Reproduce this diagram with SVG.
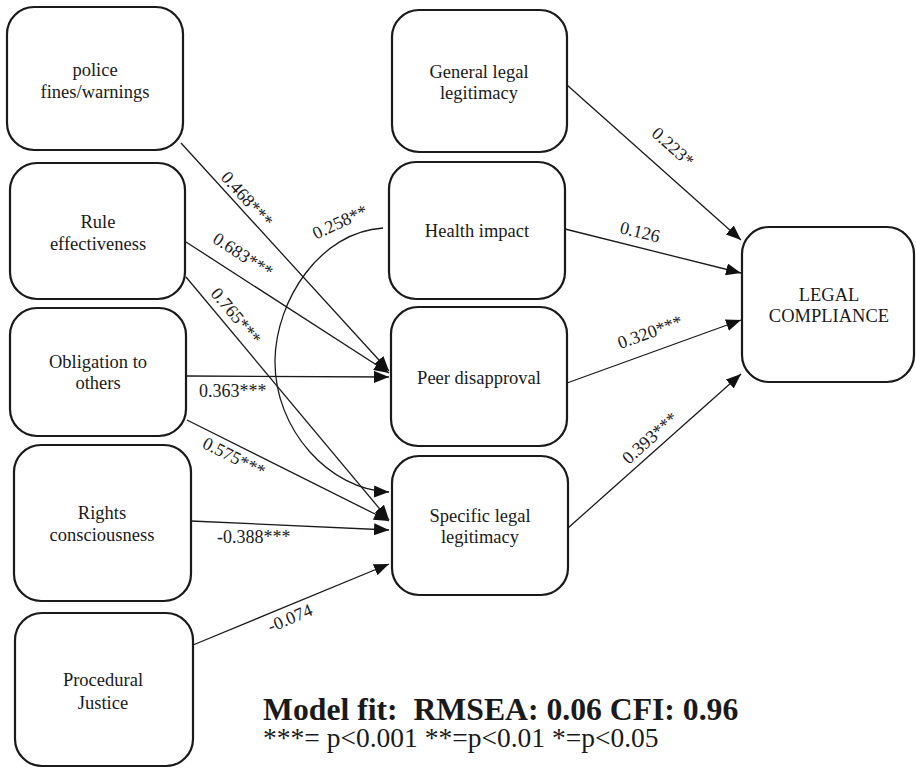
<svg xmlns="http://www.w3.org/2000/svg" width="916" height="769" viewBox="0 0 916 769">
<style>
.box{fill:#fff;stroke:#1a1a1a;stroke-width:2.2}
.nt{font-family:"Liberation Serif","Times New Roman","DejaVu Serif",serif;font-size:18.5px;fill:#1a1a1a;text-anchor:middle}
.lb{font-family:"Liberation Serif","Times New Roman","DejaVu Serif",serif;font-size:18px;fill:#1a1a1a}
.ft{font-family:"Liberation Serif","Times New Roman","DejaVu Serif",serif;fill:#1a1a1a}
.c{fill:none;stroke:#1a1a1a;stroke-width:1.3}
</style>
<defs>
<marker id="ah" markerUnits="userSpaceOnUse" markerWidth="16" markerHeight="12" refX="15" refY="6" orient="auto">
<path d="M0,0 L15,6 L0,12 z" fill="#111"/>
</marker>
</defs>
<rect width="916" height="769" fill="#fff"/>
<g id="connectors">
<line class="c" x1="181" y1="143" x2="389" y2="371" marker-end="url(#ah)"/>
<line class="c" x1="186" y1="242" x2="389" y2="373" marker-end="url(#ah)"/>
<line class="c" x1="186" y1="277" x2="389" y2="520" marker-end="url(#ah)"/>
<line class="c" x1="187" y1="376" x2="389" y2="377" marker-end="url(#ah)"/>
<line class="c" x1="187" y1="420" x2="389" y2="521" marker-end="url(#ah)"/>
<line class="c" x1="191" y1="521" x2="389" y2="530" marker-end="url(#ah)"/>
<line class="c" x1="193" y1="645" x2="389" y2="564" marker-end="url(#ah)"/>
<path class="c" d="M383,228 C320,232 276,300 275,360 C274,430 330,490 389,492" marker-end="url(#ah)"/>
<line class="c" x1="567" y1="85" x2="741" y2="240" marker-end="url(#ah)"/>
<line class="c" x1="565" y1="229" x2="741" y2="273" marker-end="url(#ah)"/>
<line class="c" x1="567" y1="383" x2="741" y2="320" marker-end="url(#ah)"/>
<line class="c" x1="568" y1="528" x2="741" y2="374" marker-end="url(#ah)"/>
<text class="lb" text-anchor="middle" x="247" y="205" transform="rotate(47.9 247 199)">0.468***</text>
<text class="lb" text-anchor="middle" x="243" y="261" transform="rotate(32.9 243 255)">0.683***</text>
<text class="lb" text-anchor="middle" x="236" y="322" transform="rotate(50.1 236 316)">0.765***</text>
<text class="lb" x="199" y="397">0.363***</text>
<text class="lb" text-anchor="middle" x="234" y="463" transform="rotate(26.6 234 457)">0.575***</text>
<text class="lb" x="217" y="543">-0.388***</text>
<text class="lb" text-anchor="middle" x="290" y="624" transform="rotate(-22.7 290 618)">-0.074</text>
<text class="lb" text-anchor="middle" x="340" y="228" transform="rotate(-25 340 222)">0.258**</text>
<text class="lb" text-anchor="middle" x="673" y="153" transform="rotate(41.7 673 147)">0.223*</text>
<text class="lb" text-anchor="middle" x="640" y="238" transform="rotate(13.5 640 232)">0.126</text>
<text class="lb" text-anchor="middle" x="650" y="338" transform="rotate(-19.8 650 332)">0.320***</text>
<text class="lb" text-anchor="middle" x="650" y="444" transform="rotate(-41.7 650 438)">0.393***</text>
</g>
<g id="police">
<rect class="box" x="7" y="7" width="176" height="143" rx="27"/>
<text class="nt" x="95" y="76">police</text>
<text class="nt" x="95" y="98">fines/warnings</text>
</g>
<g id="rule">
<rect class="box" x="10" y="163" width="175" height="136" rx="27"/>
<text class="nt" x="98" y="228">Rule</text>
<text class="nt" x="98" y="250">effectiveness</text>
</g>
<g id="obligation">
<rect class="box" x="10" y="308" width="176" height="128" rx="27"/>
<text class="nt" x="98" y="368">Obligation to</text>
<text class="nt" x="98" y="389">others</text>
</g>
<g id="rights">
<rect class="box" x="14" y="445" width="177" height="156" rx="27"/>
<text class="nt" x="102" y="519">Rights</text>
<text class="nt" x="102" y="541">consciousness</text>
</g>
<g id="procedural">
<rect class="box" x="15" y="613" width="178" height="153" rx="27"/>
<text class="nt" x="103" y="686">Procedural</text>
<text class="nt" x="103" y="709">Justice</text>
</g>
<g id="general">
<rect class="box" x="392" y="10" width="175" height="142" rx="27"/>
<text class="nt" x="479" y="78">General legal</text>
<text class="nt" x="479" y="99">legitimacy</text>
</g>
<g id="health">
<rect class="box" x="389" y="162" width="176" height="137" rx="27"/>
<text class="nt" x="477" y="237">Health impact</text>
</g>
<g id="peer">
<rect class="box" x="391" y="307" width="176" height="139" rx="27"/>
<text class="nt" x="479" y="384">Peer disapproval</text>
</g>
<g id="specific">
<rect class="box" x="392" y="456" width="176" height="139" rx="27"/>
<text class="nt" x="480" y="522">Specific legal</text>
<text class="nt" x="480" y="543">legitimacy</text>
</g>
<g id="compliance">
<rect class="box" x="742" y="227" width="172" height="155" rx="27"/>
<text class="nt" x="829" y="301">LEGAL</text>
<text class="nt" x="829" y="322">COMPLIANCE</text>
</g>
<g id="footer">
<text class="ft" x="263" y="720" font-size="31.7" font-weight="bold" xml:space="preserve">Model fit:  RMSEA: 0.06 CFI: 0.96</text>
<text class="ft" x="263" y="747" font-size="27.5">***= p&lt;0.001 **=p&lt;0.01 *=p&lt;0.05</text>
</g>
</svg>
